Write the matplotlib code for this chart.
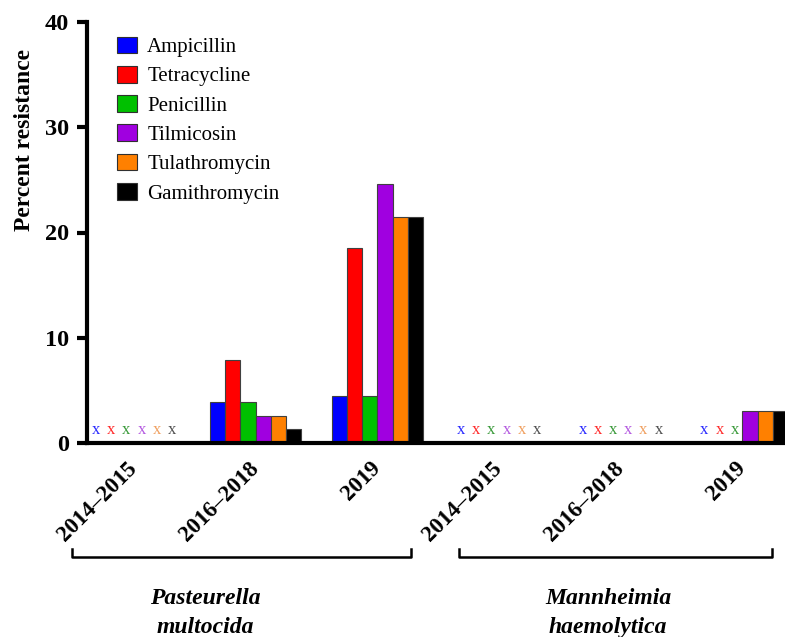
"""Percent resistance by drug, period and species - grouped bars"""
import numpy as np
import matplotlib.pyplot as plt
from matplotlib.patches import Patch
import matplotlib.transforms as mtransforms

plt.rcParams['font.family'] = ['Liberation Serif', 'DejaVu Serif']

periods = ['2014–2015', '2016–2018', '2019', '2014–2015', '2016–2018', '2019']
drugs = ['Ampicillin', 'Tetracycline', 'Penicillin', 'Tilmicosin',
         'Tulathromycin', 'Gamithromycin']
colors = ['#0000ff', '#ff0000', '#00c000', '#a000e0', '#ff8000', '#000000']
zero_colors = ['#2a2aff', '#ff2a2a', '#3a9a3a', '#b45ae0', '#f0a060', '#505050']

# percent resistance, one list per drug, one value per period group
ampicillin = [0, 3.9, 4.5, 0, 0, 0]
tetracycline = [0, 7.9, 18.5, 0, 0, 0]
penicillin = [0, 3.9, 4.5, 0, 0, 0]
tilmicosin = [0, 2.6, 24.6, 0, 0, 3.0]
tulathromycin = [0, 2.6, 21.5, 0, 0, 3.0]
gamithromycin = [0, 1.3, 21.5, 0, 0, 3.0]
series = [ampicillin, tetracycline, penicillin, tilmicosin, tulathromycin, gamithromycin]

species = ['Pasteurella\nmultocida', 'Mannheimia\nhaemolytica']

fig = plt.figure(figsize=(7.85, 6.37), dpi=100)
ax = fig.add_axes([87/785, 1 - 443/637, 698/785, 421/637])

x = np.arange(len(periods))
w = 0.125
for k, (vals, c, zc) in enumerate(zip(series, colors, zero_colors)):
    pos = x + (k - 2.5) * w
    ax.bar(pos, vals, width=w, color=c, edgecolor='#404040', linewidth=0.8)
    # GraphPad-style "x" for zero values
    for p, v in zip(pos, vals):
        if v == 0:
            ax.text(p, 1.2, 'x', color=zc, fontsize=12, ha='center', va='center')

ax.set_xlim(-0.386, 5.35)
ax.set_ylim(0, 40)
ax.set_yticks([0, 10, 20, 30, 40])
ax.set_xticks(x)
ax.set_xticklabels(periods, rotation=45, ha='right', va='center',
                   rotation_mode='anchor', fontsize=16.5, fontweight='bold')
for lab in ax.get_yticklabels():
    lab.set_fontweight('bold')
ax.tick_params(axis='y', length=7, width=3, labelsize=17.5, pad=6)
ax.tick_params(axis='x', length=0, pad=16)
for s in ['top', 'right']:
    ax.spines[s].set_visible(False)
for s in ['left', 'bottom']:
    ax.spines[s].set_linewidth(3)

ax.set_ylabel('Percent resistance', fontsize=17, fontweight='bold')
ax.yaxis.set_label_coords(-0.075, 0.72)

handles = [Patch(facecolor=c, edgecolor='#303030', linewidth=0.8) for c in colors]
ax.legend(handles, drugs, loc='upper left', bbox_to_anchor=(0.031, 0.985),
          frameon=False, fontsize=15, handlelength=0.95, handleheight=0.85,
          labelspacing=0.42, handletextpad=0.5, borderaxespad=0)

# species brackets below the period labels
tr = mtransforms.blended_transform_factory(ax.transData, ax.transAxes)
brackets = [(-0.51, 2.28), (2.67, 5.24)]
for (a, b) in brackets:
    ax.plot([a, a, b, b], [-0.252, -0.271, -0.271, -0.252], color='black',
            lw=1.8, transform=tr, clip_on=False)

fig.text(205/785, 1 - 613/637, species[0], ha='center', va='center',
         fontsize=17, fontweight='bold', style='italic', linespacing=1.45)
fig.text(608/785, 1 - 613/637, species[1], ha='center', va='center',
         fontsize=17, fontweight='bold', style='italic', linespacing=1.45)

fig.savefig('out.png', dpi=100)
